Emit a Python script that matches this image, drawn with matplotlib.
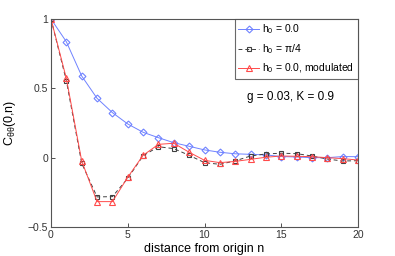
import numpy as np
import matplotlib
matplotlib.use('Agg')
from matplotlib import pyplot as plt

plt.rcParams['font.family'] = ['Liberation Sans', 'DejaVu Sans']
plt.rcParams['mathtext.fontset'] = 'custom'
plt.rcParams['mathtext.rm'] = 'Liberation Sans'
plt.rcParams['mathtext.it'] = 'Liberation Sans'

n = np.arange(0, 21)
c_h0 = [1.0, 0.836, 0.589, 0.428, 0.325, 0.243, 0.183, 0.144, 0.108, 0.082, 0.056,
        0.039, 0.028, 0.024, 0.02, 0.008, 0.005, 0.0, 0.0, 0.008, 0.007]
c_pi4 = [1.0, 0.555, -0.04, -0.283, -0.281, -0.149, 0.014, 0.079, 0.065, 0.017, -0.036,
         -0.048, -0.023, 0.012, 0.027, 0.032, 0.029, 0.012, -0.01, -0.024, -0.022]
c_mod = [1.0, 0.572, -0.024, -0.317, -0.317, -0.141, 0.017, 0.096, 0.104, 0.039, -0.019,
         -0.036, -0.027, -0.012, 0.003, 0.012, 0.01, 0.007, 0.0, -0.007, -0.017]

fig = plt.figure(figsize=(3.95, 2.56), dpi=100)
ax = fig.add_axes([51 / 395, 1 - 227 / 256, 307 / 395, 208 / 256])

ax.plot(n, c_h0, color='#6f82ff', lw=0.7, marker='D', ms=3.5, mfc='none', mew=0.8,
        label=r'h$_0$ = 0.0')
ax.plot(n, c_pi4, color='#404040', lw=0.7, ls=(0, (4, 3)), marker='s', ms=3.5, mfc='none',
        mew=0.8, label=r'h$_0$ = $\pi$/4')
ax.plot(n, c_mod, color='#ff4a4a', lw=0.7, marker='^', ms=4, mfc='none', mew=0.8,
        label=r'h$_0$ = 0.0, modulated')

ax.set_xlim(0, 20)
ax.set_ylim(-0.5, 1)
ax.set_xticks([0, 5, 10, 15, 20])
ax.set_yticks([-0.5, 0, 0.5, 1])
ax.set_yticklabels(['\u22120.5', '0', '0.5', '1'])
ax.tick_params(direction='in', length=3, width=0.6, labelsize=7.5, colors='#333333', pad=2)
for s in ax.spines.values():
    s.set_color('#555555')
    s.set_linewidth(0.8)

ax.set_xlabel('distance from origin n', fontsize=9, labelpad=2)
ax.set_ylabel(r'C$_{\theta\theta}$(0,n)', fontsize=9, labelpad=7)

leg = ax.legend(loc='upper right', fontsize=7.5, frameon=True, fancybox=False,
                borderaxespad=0, handlelength=2.0, handletextpad=0.3, borderpad=0.35,
                labelspacing=0.55)
leg.get_frame().set_edgecolor('#444444')
leg.get_frame().set_linewidth(0.8)

ax.text(15.6, 0.435, 'g = 0.03, K = 0.9', fontsize=8.5, ha='center', va='center')

fig.savefig('out.png', dpi=100)
